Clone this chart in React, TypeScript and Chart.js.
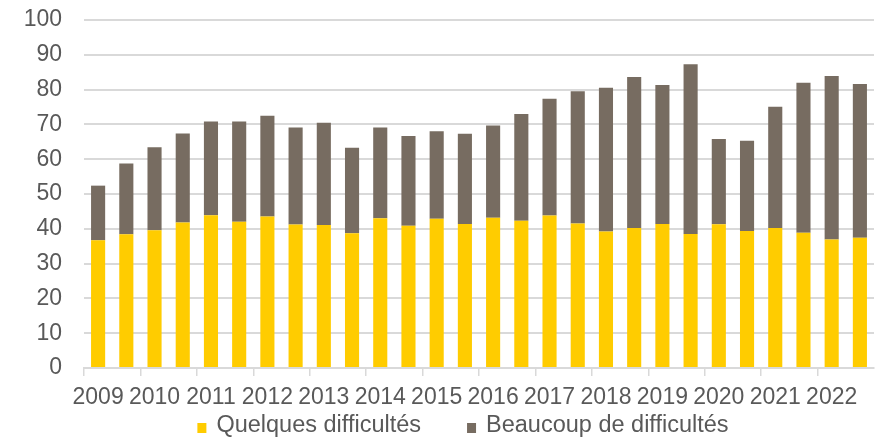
import React, { useEffect, useRef } from 'react';
import { Chart, registerables } from 'chart.js';

Chart.register(...registerables);

const years = ['2009', '2010', '2011', '2012', '2013', '2014', '2015', '2016', '2017', '2018', '2019', '2020', '2021', '2022'];

const quelques = [36.7, 38.4, 39.6, 41.8, 43.9, 42.0, 43.5, 41.2, 41.1, 38.7, 43.0, 40.9, 42.9, 41.4,
  43.2, 42.3, 43.8, 41.5, 39.2, 40.2, 41.4, 38.5, 41.3, 39.4, 40.2, 38.9, 36.9, 37.4];

const beaucoup = [15.7, 20.4, 23.8, 25.6, 26.9, 28.8, 29.0, 27.9, 29.4, 24.6, 26.1, 25.8, 25.1, 25.9,
  26.5, 30.7, 33.6, 38.0, 41.3, 43.4, 39.9, 48.8, 24.5, 25.9, 34.9, 43.1, 47.0, 44.2];

const seriesNames = ['Quelques difficultés', 'Beaucoup de difficultés'];
const seriesColors = ['#FFCC00', '#776C61'];

const yMin = 0;
const yMax = 100;
const yStep = 10;

// two observations per year (first and second half)
const periods = years.flatMap((y) => [y + '-1', y + '-2']);

const FONT_FAMILY = '"Liberation Sans", Arial, Helvetica, sans-serif';
const TEXT_COLOR = '#595959';
const GRID_COLOR = '#D9D9D9';

const legendPlugin = {
  id: 'bottomLegend',
  afterDraw(chart: any) {
    const ctx = chart.ctx as CanvasRenderingContext2D;
    const items = chart.data.datasets.map((d: any) => ({ text: d.label, color: d.backgroundColor }));
    ctx.save();
    ctx.font = `23.5px ${FONT_FAMILY}`;
    ctx.textBaseline = 'middle';
    ctx.textAlign = 'left';
    const boxW = 9;
    const boxH = 10;
    const gapBoxText = 10;
    const gapItems = 46;
    const widths = items.map((it: any) => boxW + gapBoxText + ctx.measureText(it.text).width);
    const total = widths.reduce((a: number, b: number) => a + b, 0) + gapItems * (items.length - 1);
    let x = chart.width / 2 + 21 - total / 2;
    const y = chart.height - 12;
    items.forEach((it: any, i: number) => {
      ctx.fillStyle = it.color;
      ctx.fillRect(x, y - 3, boxW, boxH);
      ctx.fillStyle = TEXT_COLOR;
      ctx.fillText(it.text, x + boxW + gapBoxText, y);
      x += widths[i] + gapItems;
    });
    ctx.restore();
  },
};

export default function App() {
  const canvasRef = useRef<HTMLCanvasElement | null>(null);

  useEffect(() => {
    if (!canvasRef.current) return;
    const chart = new Chart(canvasRef.current, {
      type: 'bar',
      data: {
        labels: periods,
        datasets: [
          {
            label: seriesNames[0],
            data: quelques,
            backgroundColor: seriesColors[0],
            barPercentage: 0.5,
            categoryPercentage: 1,
          },
          {
            label: seriesNames[1],
            data: beaucoup,
            backgroundColor: seriesColors[1],
            barPercentage: 0.5,
            categoryPercentage: 1,
          },
        ],
      },
      options: {
        animation: false,
        responsive: false,
        maintainAspectRatio: false,
        layout: { padding: { top: 20, right: 10, bottom: 30, left: 0 } },
        plugins: {
          legend: { display: false },
          tooltip: { enabled: false },
        },
        scales: {
          x: {
            stacked: true,
            offset: true,
            afterFit: (scale: any) => {
              scale.height = 40;
            },
            border: { display: true, color: GRID_COLOR, width: 2 },
            grid: {
              offset: true,
              drawOnChartArea: false,
              drawTicks: true,
              tickLength: 8,
              lineWidth: 1.5,
              color: (c: any) => (c.index % 2 === 0 ? GRID_COLOR : 'rgba(0,0,0,0)'),
            },
            ticks: {
              autoSkip: false,
              maxRotation: 0,
              minRotation: 0,
              padding: 8,
              color: TEXT_COLOR,
              font: { family: FONT_FAMILY, size: 23 },
              callback: (_v: any, i: number) => (i % 2 === 0 ? years[i / 2] : ''),
            },
          },
          y: {
            stacked: true,
            min: yMin,
            max: yMax,
            afterFit: (scale: any) => {
              scale.width = 84;
              scale.paddingTop = 0;
              scale.paddingBottom = 0;
            },
            border: { display: false },
            grid: {
              color: GRID_COLOR,
              lineWidth: 2,
              drawTicks: false,
            },
            ticks: {
              stepSize: yStep,
              padding: 22,
              color: TEXT_COLOR,
              font: { family: FONT_FAMILY, size: 23 },
            },
          },
        },
      },
      plugins: [legendPlugin],
    });
    return () => chart.destroy();
  }, []);

  return (
    <div style={{ position: 'absolute', left: 0, top: 0, width: 884, height: 438 }}>
      <canvas ref={canvasRef} width={884} height={438} style={{ display: 'block' }} />
    </div>
  );
}
